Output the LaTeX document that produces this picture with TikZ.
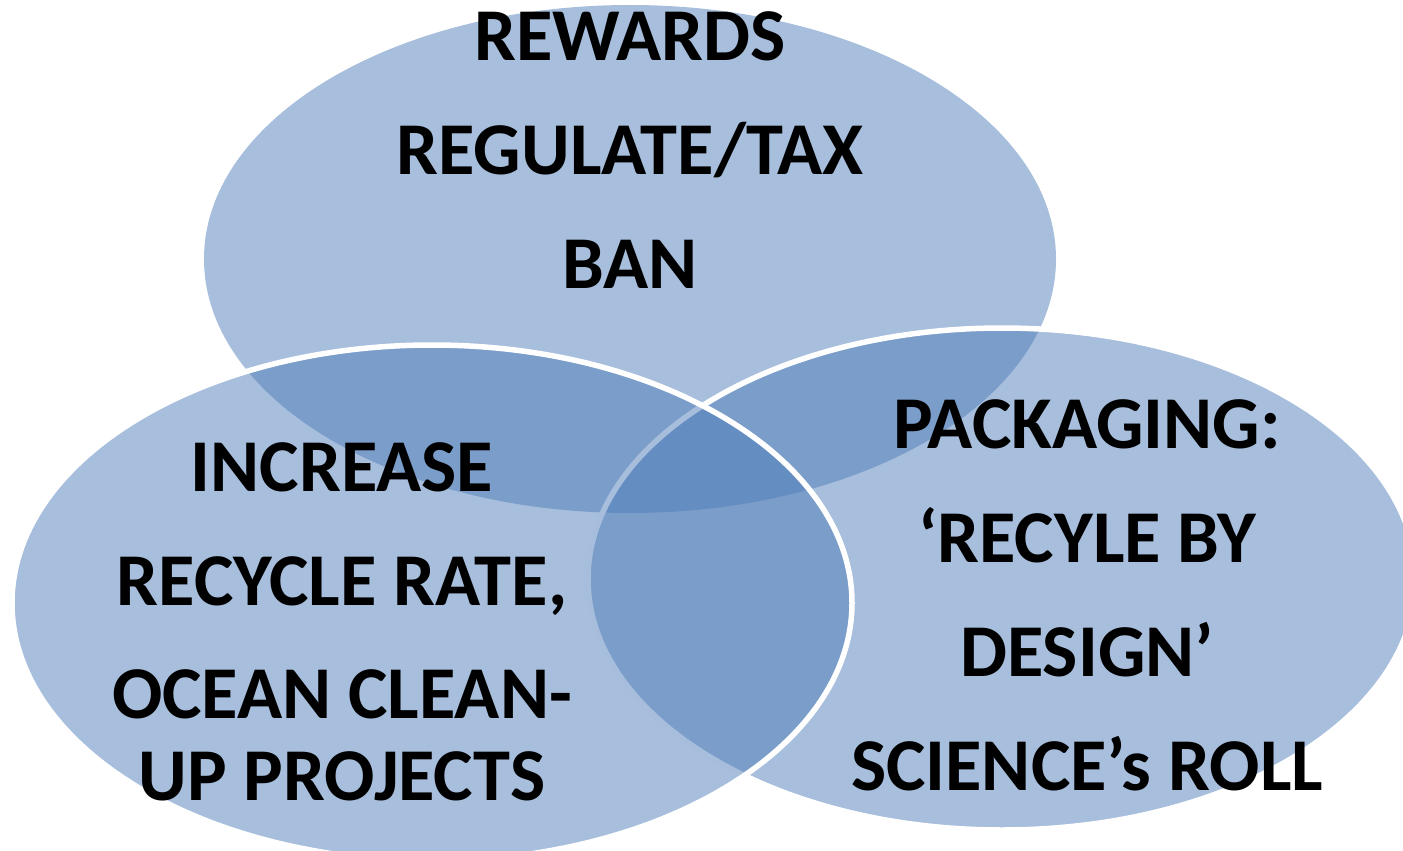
\documentclass[tikz,border=0pt]{standalone}
\usepackage{fontspec}
\setmainfont{Carlito}
\usetikzlibrary{shapes.geometric}
\definecolor{vennblue}{HTML}{4F7DB9}
\tikzset{
  venn/.style={ellipse, inner sep=0pt, fill=vennblue, fill opacity=0.5},
  vennrim/.style={venn, draw=white, draw opacity=1, line width=5.5pt},
  lbl/.style={anchor=base, inner sep=0pt, text=black, font=\fontsize{74.5}{82}\selectfont\bfseries}
}
\begin{document}
\begin{tikzpicture}[x=1pt, y=-1pt]
\useasboundingbox (0,0) rectangle (1403,851);
\begin{scope}
\clip (0,0) rectangle (1403,851);
\node[venn, minimum width=852pt, minimum height=508pt] (topE) at (630,259) {};
\node[vennrim, minimum width=828pt, minimum height=502pt] (rightE) at (1002,579) {};
\node[vennrim, minimum width=840pt, minimum height=516pt] (leftE) at (432,603) {};
\end{scope}
% top
\node[lbl] (t1) at (630,60) {REWARDS};
\node[lbl] (t2) at (630,174) {REGULATE/TAX};
\node[lbl] (t3) at (630,288) {BAN};
% left
\node[lbl] (l1) at (342,491) {INCREASE};
\node[lbl] (l2) at (342,605) {RECYCLE RATE,};
\node[lbl] (l3) at (342,718) {OCEAN CLEAN-};
\node[lbl] (l4) at (342,800) {UP PROJECTS};
% right
\node[lbl] (r1) at (1087,448) {PACKAGING:};
\node[lbl] (r2) at (1087,562) {‘RECYLE BY};
\node[lbl] (r3) at (1087,676) {DESIGN’};
\node[lbl] (r4) at (1087,790) {SCIENCE’s ROLL};
\end{tikzpicture}
\end{document}
